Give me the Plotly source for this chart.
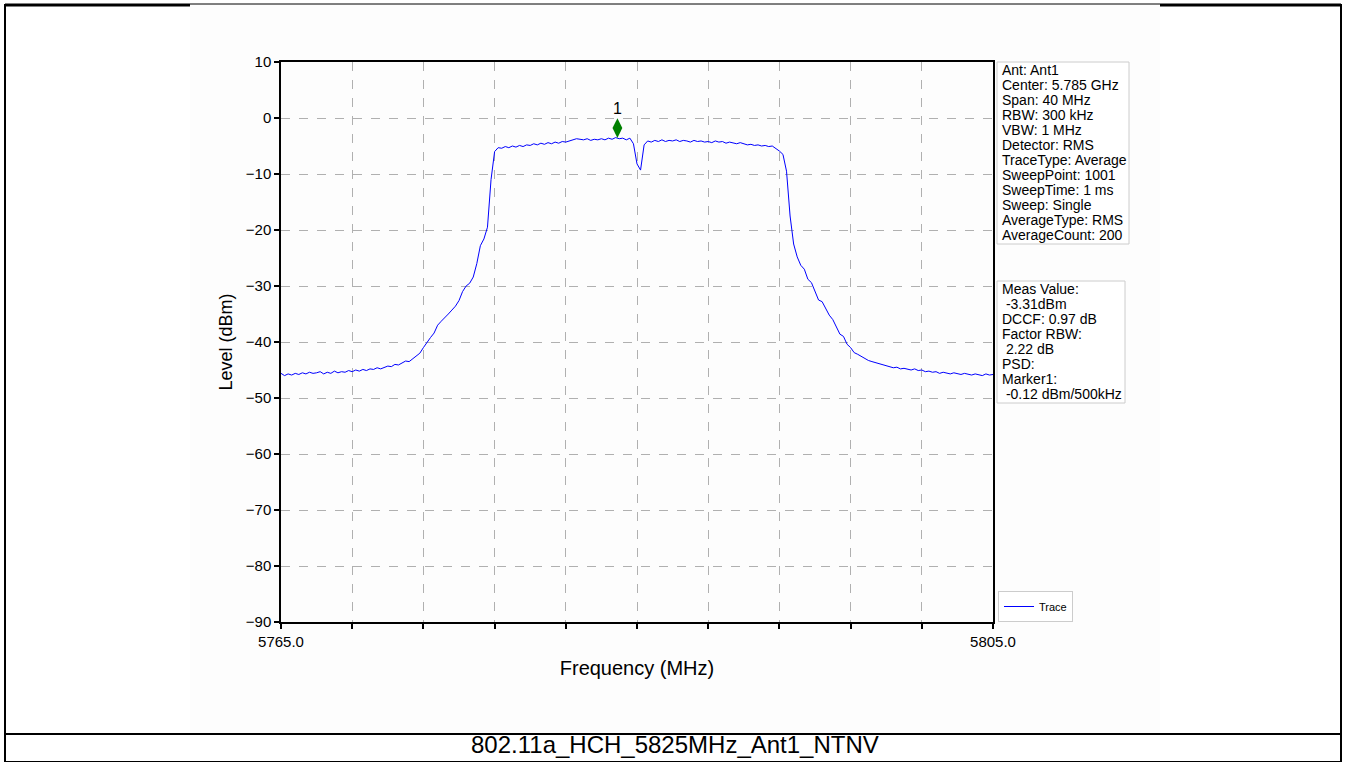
import numpy as np
import plotly.graph_objects as go

# sweep: 5765 .. 5805 MHz, one reading every 0.2 MHz
f_start = 5765.0
f_step = 0.2
level_dbm = [
    -45.6, -46.0, -45.7, -45.9, -45.6, -45.8, -45.5, -45.7, -45.4, -45.6,
    -45.5, -45.3, -45.7, -45.4, -45.6, -45.2, -45.5, -45.3, -45.4, -45.1,
    -45.3, -45.0, -45.2, -44.9, -45.1, -44.8, -44.9, -44.6, -44.8, -44.5,
    -44.3, -44.4, -44.0, -44.1, -43.7, -43.4, -43.5, -43.0, -42.6, -42.0,
    -41.0, -40.0, -39.2, -38.4, -37.0, -36.3, -35.7, -35.0, -34.3, -33.6,
    -32.6, -31.0, -30.0, -29.5, -28.4, -26.0, -22.8, -21.6, -19.5, -11.0,
    -6.0, -5.3, -5.4, -5.1, -5.3, -5.0, -5.2, -4.9, -5.1, -4.8,
    -4.9, -4.6, -4.8, -4.5, -4.7, -4.4, -4.6, -4.3, -4.5, -4.2,
    -4.3, -4.1, -3.9, -3.7, -3.8, -3.9, -3.7, -4.0, -3.8, -3.9,
    -3.7, -3.9, -3.6, -3.8, -3.5, -3.7, -3.6, -3.9, -3.6, -4.6,
    -8.2, -9.3, -4.8, -4.1, -4.3, -4.0, -4.2, -3.9, -4.2, -4.0,
    -4.1, -3.9, -4.2, -4.0, -4.1, -4.3, -4.0, -4.2, -4.1, -4.3,
    -4.2, -4.4, -4.1, -4.3, -4.2, -4.5, -4.3, -4.4, -4.6, -4.4,
    -4.6, -4.8, -4.7, -4.9, -4.8, -5.0, -4.9, -5.1, -5.0, -5.4,
    -5.9, -6.5, -9.5, -17.5, -22.5, -24.8, -26.3, -27.0, -28.8, -29.4,
    -31.0, -32.5, -32.8, -34.0, -35.2, -36.0, -37.3, -38.6, -39.0, -40.4,
    -41.0, -41.9, -42.2, -42.6, -42.9, -43.3, -43.5, -43.7, -43.9, -44.1,
    -44.2, -44.4, -44.6, -44.5, -44.8, -44.7, -44.9, -45.0, -44.8, -45.1,
    -45.0, -45.3, -45.2, -45.4, -45.3, -45.6, -45.4, -45.5, -45.7, -45.5,
    -45.6, -45.8, -45.6, -45.7, -45.9, -45.7, -45.8, -46.0, -45.7, -45.9,
    -45.8,
]
freq_mhz = f_start + f_step * np.arange(len(level_dbm))

marker_freq = [5783.9]
marker_level = [-1.8]
marker_label = ["1"]

x_ticks = [5765, 5769, 5773, 5777, 5781, 5785, 5789, 5793, 5797, 5801, 5805]
x_ticktext = ["5765.0", "", "", "", "", "", "", "", "", "", "5805.0"]

settings_lines = [
    "Ant: Ant1", "Center: 5.785 GHz", "Span: 40 MHz", "RBW: 300 kHz",
    "VBW: 1 MHz", "Detector: RMS", "TraceType: Average", "SweepPoint: 1001",
    "SweepTime: 1 ms", "Sweep: Single", "AverageType: RMS", "AverageCount: 200",
]
result_lines = [
    "Meas Value:", " -3.31dBm", "DCCF: 0.97 dB", "Factor RBW:", " 2.22 dB",
    "PSD:", "Marker1:", " -0.12 dBm/500kHz",
]
caption = "802.11a_HCH_5825MHz_Ant1_NTNV"

# page geometry (pixels)
W, H = 1346, 762
L, R, T, B = 281, 993, 62, 622


def px(x):
    return (x - L) / (R - L)


def py(y):
    return (B - y) / (B - T)


fig = go.Figure()
fig.add_trace(go.Scatter(x=freq_mhz, y=level_dbm, mode="lines", name="Trace",
                         line=dict(color="#0000ff", width=1)))
fig.add_trace(go.Scatter(x=marker_freq, y=marker_level, mode="markers+text",
                         text=marker_label, textposition="top center",
                         textfont=dict(size=16, color="black"),
                         marker=dict(symbol="diamond-tall", size=14, color="#008000"),
                         showlegend=False))

font = "Arial, Liberation Sans, sans-serif"


def hline(x0, x1, y, w):
    return dict(type="line", xref="paper", yref="paper", x0=px(x0), x1=px(x1),
                y0=py(y), y1=py(y), line=dict(color="black", width=w))


def vline(x, y0, y1, w):
    return dict(type="line", xref="paper", yref="paper", x0=px(x), x1=px(x),
                y0=py(y0), y1=py(y1), line=dict(color="black", width=w))


def box(x0, x1, y0, y1):
    return dict(type="rect", xref="paper", yref="paper", x0=px(x0), x1=px(x1),
                y0=py(y1), y1=py(y0), fillcolor="white",
                line=dict(color="#cccccc", width=1))


shapes = [
    # faint background of the embedded chart image
    dict(type="rect", xref="paper", yref="paper", x0=px(190), x1=px(1160),
         y0=py(733), y1=py(4), fillcolor="#fdfdfd", line=dict(width=0), layer="below"),
    # outer frame
    vline(5, 762, 4, 2), vline(1341, 762, 4, 2),
    hline(5, 190, 5, 3), hline(190, 1160, 4, 1), hline(1160, 1341, 5, 3),
    hline(5, 1341, 734, 2), hline(5, 1341, 762, 2),
    # info boxes
    box(997, 1129, 62, 244),
    box(997, 1125, 281, 403),
]

annotations = []
for lines, y_first in [(settings_lines, 70), (result_lines, 289)]:
    for i, line in enumerate(lines):
        annotations.append(dict(
            text=line.replace(" ", "&nbsp;", 1) if line.startswith(" ") else line,
            xref="paper", yref="paper", x=px(1000), y=py(y_first + 15 * i),
            xanchor="left", yanchor="middle", showarrow=False,
            font=dict(family=font, size=14, color="black")))
annotations.append(dict(text=caption, xref="paper", yref="paper", x=px(675), y=py(745),
                        xanchor="center", yanchor="middle", showarrow=False,
                        font=dict(family=font, size=24, color="black")))

fig.update_layout(
    width=W, height=H,
    margin=dict(l=L, r=W - R, t=T, b=H - B, autoexpand=False),
    paper_bgcolor="white", plot_bgcolor="white",
    font=dict(family=font, size=15, color="black"),
    showlegend=True,
    legend=dict(x=px(998), y=0, xanchor="left", yanchor="bottom",
                bordercolor="#cccccc", borderwidth=1, bgcolor="white",
                font=dict(size=11), itemwidth=30),
    shapes=shapes, annotations=annotations,
)
fig.update_xaxes(range=[5765, 5805], tickvals=x_ticks, ticktext=x_ticktext,
                 ticks="outside", ticklen=5, tickwidth=1.5, tickcolor="black",
                 showline=True, linecolor="black", linewidth=1.5, mirror=True,
                 showgrid=True, gridcolor="#b0b0b0", griddash="dash", gridwidth=0.8,
                 zeroline=False,
                 title=dict(text="Frequency (MHz)", font=dict(size=20), standoff=12))
fig.update_yaxes(range=[-90, 10], dtick=10, tick0=-90,
                 ticks="outside", ticklen=5, tickwidth=1.5, tickcolor="black",
                 showline=True, linecolor="black", linewidth=1.5, mirror=True,
                 showgrid=True, gridcolor="#b0b0b0", griddash="dash", gridwidth=0.8,
                 zeroline=False,
                 title=dict(text="Level (dBm)", font=dict(size=18), standoff=8))

fig.write_html("out.html", config={"displayModeBar": False},
               post_script="document.body.style.margin='0';")
